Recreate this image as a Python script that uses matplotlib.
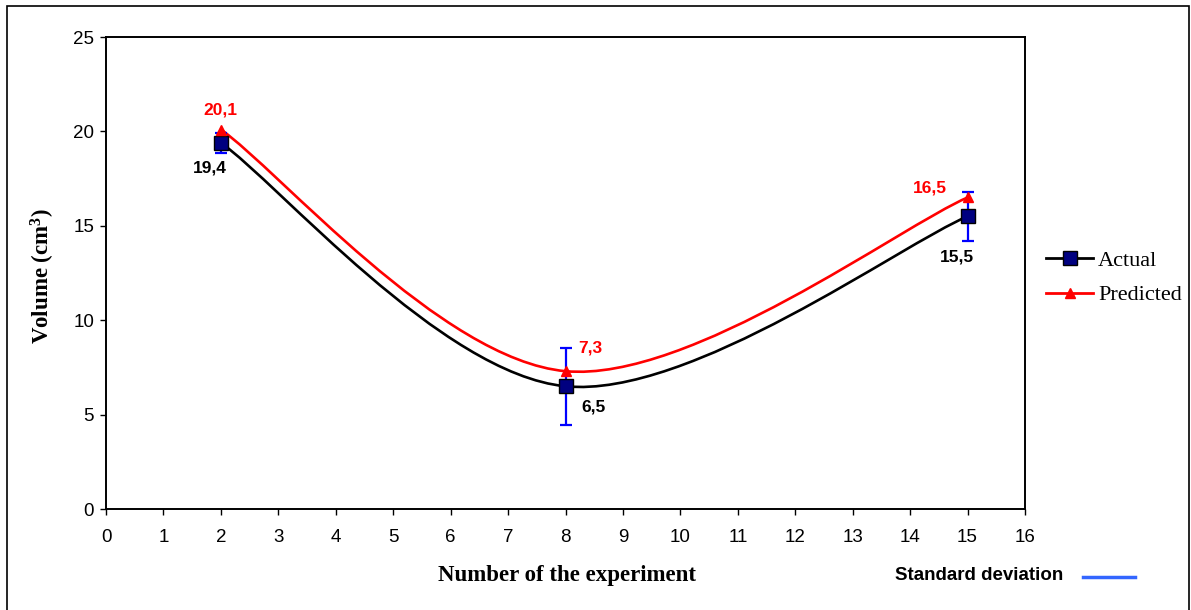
import matplotlib
matplotlib.use("Agg")
import matplotlib.pyplot as plt
from matplotlib.path import Path
from matplotlib.patches import PathPatch, Rectangle
from matplotlib.lines import Line2D

plt.rcParams["mathtext.fontset"] = "custom"
plt.rcParams["mathtext.rm"] = "Liberation Serif:bold"
plt.rcParams["mathtext.it"] = "Liberation Serif:bold"
plt.rcParams["mathtext.bf"] = "Liberation Serif:bold"

# Data
experiments = [2, 8, 15]
actual = [19.4, 6.5, 15.5]
predicted = [20.1, 7.3, 16.5]
std_dev = [0.54, 2.05, 1.28]
actual_labels = ["19,4", "6,5", "15,5"]
predicted_labels = ["20,1", "7,3", "16,5"]
x_ticks = list(range(0, 17))
y_ticks = [0, 5, 10, 15, 20, 25]

W, H = 1191, 610
fig = plt.figure(figsize=(W / 100, H / 100), dpi=100)
fig.patch.set_facecolor("white")

# Outer chart frame
fig.patches.append(Rectangle((7 / W, -0.01), (1189 - 7) / W, 1.01 - 6 / H,
                             transform=fig.transFigure, fill=False,
                             edgecolor="black", linewidth=1.2))

ax = fig.add_axes([106 / W, 1 - 509 / H, (1025 - 106) / W, (509 - 37) / H])


def smooth_path(xs, ys):
    """Bezier curve through the points, Excel-style smoothing."""
    pts = list(zip(xs, ys))
    n = len(pts)
    verts = [pts[0]]
    codes = [Path.MOVETO]
    for i in range(n - 1):
        p0 = pts[i - 1] if i > 0 else pts[i]
        p1 = pts[i]
        p2 = pts[i + 1]
        p3 = pts[i + 2] if i + 2 < n else pts[i + 1]
        c1 = (p1[0] + (p2[0] - p0[0]) / 6, p1[1] + (p2[1] - p0[1]) / 6)
        c2 = (p2[0] - (p3[0] - p1[0]) / 6, p2[1] - (p3[1] - p1[1]) / 6)
        verts += [c1, c2, p2]
        codes += [Path.CURVE4] * 3
    return Path(verts, codes)


ax.add_patch(PathPatch(smooth_path(experiments, actual), fill=False,
                       edgecolor="black", linewidth=1.9, zorder=3))
ax.add_patch(PathPatch(smooth_path(experiments, predicted), fill=False,
                       edgecolor="#FF0000", linewidth=1.9, zorder=3))

# Standard deviation bars on actual values
ax.errorbar(experiments, actual, yerr=std_dev, fmt="none", ecolor="#0000FF",
            elinewidth=1.6, capsize=4.6, capthick=1.6, zorder=4)

ax.plot(experiments, actual, linestyle="none", marker="s", markersize=10.5,
        markerfacecolor="#000080", markeredgecolor="black",
        markeredgewidth=1.0, zorder=5)
ax.plot(experiments, predicted, linestyle="none", marker="^", markersize=7,
        markerfacecolor="#FF0000", markeredgecolor="#FF0000", zorder=6)

label_font = dict(family="Liberation Sans", fontweight="bold", fontsize=12.5)
act_offsets = [(-8, -18), (20, -15), (-8, -29)]
pred_offsets = [(0, 14), (18, 17), (-27, 7)]
for x, y, txt, off in zip(experiments, actual, actual_labels, act_offsets):
    ax.annotate(txt, (x, y), xytext=off, textcoords="offset points",
                ha="center", va="center", color="black", **label_font)
for x, y, txt, off in zip(experiments, predicted, predicted_labels, pred_offsets):
    ax.annotate(txt, (x, y), xytext=off, textcoords="offset points",
                ha="center", va="center", color="#FF0000", **label_font)

ax.set_xlim(0, 16)
ax.set_ylim(0, 25)
ax.set_xticks(x_ticks)
ax.set_yticks(y_ticks)
ax.tick_params(axis="both", direction="out", length=4.5, width=1.0,
               labelsize=13.5, pad=4)
for lab in ax.get_xticklabels() + ax.get_yticklabels():
    lab.set_family("Liberation Sans")
ax.tick_params(axis="x", pad=10)
for s in ax.spines.values():
    s.set_linewidth(1.4)

fig.text(567 / W, 1 - 575 / H, "Number of the experiment",
         family="Liberation Serif", fontweight="bold", fontsize=16.5,
         ha="center", va="center")
fig.text(43 / W, 1 - 276 / H, r"Volume (cm$^{3}$)", family="Liberation Serif",
         fontweight="bold", fontsize=16.5, rotation=90,
         ha="center", va="center")

handles = [
    Line2D([], [], color="black", linewidth=2.0, marker="s", markersize=10.5,
           markerfacecolor="#000080", markeredgecolor="black"),
    Line2D([], [], color="#FF0000", linewidth=2.0, marker="^", markersize=7,
           markerfacecolor="#FF0000", markeredgecolor="#FF0000"),
]
fig.legend(handles, ["Actual", "Predicted"], loc="upper left",
           bbox_to_anchor=(1042 / W, 1 - 246 / H), frameon=False,
           prop=dict(family="Liberation Serif", size=16),
           handlelength=2.1, handletextpad=0.23, labelspacing=0.62,
           borderpad=0.2, borderaxespad=0)

fig.text(1063 / W, 1 - 575 / H, "Standard deviation", family="Liberation Sans",
         fontweight="bold", fontsize=13.5, ha="right", va="center")
fig.lines.append(Line2D([1083 / W, 1135 / W], [1 - 577 / H, 1 - 577 / H],
                        transform=fig.transFigure, color="#3366FF",
                        linewidth=2.5))

fig.savefig("out.png", dpi=100)
